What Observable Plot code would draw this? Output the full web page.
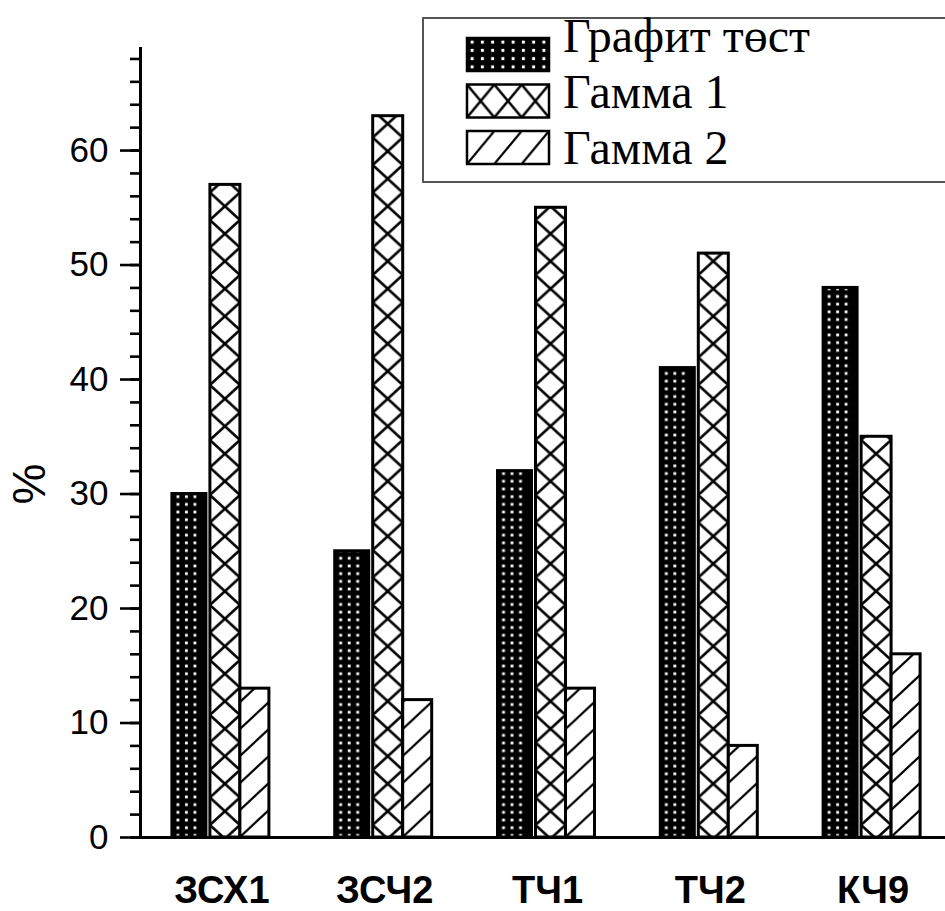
<!DOCTYPE html>
<html>
<head>
<meta charset="utf-8">
<script src="https://cdn.jsdelivr.net/npm/d3@7"></script>
<script src="https://cdn.jsdelivr.net/npm/@observablehq/plot@0.6"></script>
<style>
  html, body { margin: 0; padding: 0; background: white; overflow: hidden; }
  #wrap { position: relative; width: 945px; height: 911px; }
  #legend { position: absolute; left: 422px; top: 0; overflow: visible; }
  #defs { position: absolute; width: 0; height: 0; }
</style>
</head>
<body>
<svg id="defs" width="0" height="0"><defs></defs></svg>
<div id="wrap"></div>
<script>
// Samples and measured shares (%)
const categories = ["ЗСХ1", "ЗСЧ2", "ТЧ1", "ТЧ2", "КЧ9"];
const series = ["Графит төст", "Гамма 1", "Гамма 2"];
const graphite = [30, 25, 32, 41, 48];
const gamma1 = [57, 63, 55, 51, 35];
const gamma2 = [13, 12, 13, 8, 16];
const yTicks = [0, 10, 20, 30, 40, 50, 60];
const yMinorTicks = d3.range(0, 69, 2);

const values = [graphite, gamma1, gamma2];
const data = categories.flatMap((c, i) =>
  series.map((s, j) => ({category: c, index: i, series: s, value: values[j][i]}))
);

// Position of each series inside a category slot (slot = one unit on x)
const sub = d3.scaleBand().domain(series).range([0, 1]).paddingInner(0).paddingOuter(0.967);

// fill pattern per series, and small insets so the bars sit as in a grouped histogram
const patternIds = ["pat-graphite", "pat-gamma1", "pat-gamma2"];
const insets = [
  {insetLeft: 0, insetRight: -1},
  {insetLeft: 5, insetRight: -2},
  {insetLeft: 2, insetRight: 2}
];

const bars = series.map((s, j) =>
  Plot.rectY(data.filter(d => d.series === s), {
    x1: d => d.index + sub(d.series),
    x2: d => d.index + sub(d.series) + sub.bandwidth(),
    y: "value",
    fill: `url(#${patternIds[j]})`,
    stroke: "black",
    strokeWidth: 3,
    ...insets[j]
  })
);

const chart = Plot.plot({
  width: 945,
  height: 911,
  marginLeft: 140,
  marginRight: -9,
  marginTop: 47,
  marginBottom: 74,
  style: {fontFamily: "'Liberation Sans', Arial, sans-serif", background: "white", color: "black"},
  x: {domain: [0, categories.length], label: null},
  y: {domain: [0, 69], label: null},
  marks: [
    ...bars,
    Plot.ruleY([0], {strokeWidth: 3}),
    Plot.ruleX([0], {strokeWidth: 3}),
    // outward ticks on the y axis: short ones every 2 %, long ones every 10 %
    Plot.ruleY(yMinorTicks, {x1: 0, x2: 0, insetLeft: -10, strokeWidth: 2.6}),
    Plot.ruleY(yTicks, {x1: 0, x2: 0, insetLeft: -20, strokeWidth: 2.6}),
    Plot.axisY({ticks: yTicks, tickSize: 0, tickPadding: 32, fontSize: 35, label: null}),
    Plot.axisX({
      ticks: categories.map((c, i) => i + 0.5),
      tickFormat: d => categories[Math.floor(d)],
      tickSize: 0, tickPadding: 39, fontSize: 38, fontWeight: "bold", label: null
    }),
    Plot.text(["%"], {frameAnchor: "left", dx: -110, dy: 62, rotate: -90, fontSize: 46})
  ]
});
document.getElementById("wrap").appendChild(chart);

// Fill patterns: one tile per category slot, so every group lines up the same way
const defs = d3.select("#defs defs");
const xs = chart.scale("x");
const origin = xs.apply(0);
const step = xs.apply(1) - xs.apply(0);

function pattern(id, x, y, w, h) {
  return defs.append("pattern")
    .attr("id", id)
    .attr("patternUnits", "userSpaceOnUse")
    .attr("x", x).attr("y", y)
    .attr("width", w).attr("height", h);
}
function dots(p, w, h, cols, size) {
  p.append("rect").attr("width", w).attr("height", h).attr("fill", "black");
  cols.forEach(cx => p.append("rect")
    .attr("x", cx - size / 2).attr("y", (h - size) / 2)
    .attr("width", size).attr("height", size).attr("fill", "white"));
}
function cross(p, a, b, w, h, sw) {
  p.append("rect").attr("width", w).attr("height", h).attr("fill", "white");
  p.append("path").attr("d", `M${a},0L${b},${h}M${b},0L${a},${h}`)
    .attr("stroke", "black").attr("stroke-width", sw).attr("fill", "none");
}
function hatch(p, a, b, w, h, sw) {
  p.append("rect").attr("width", w).attr("height", h).attr("fill", "white");
  p.append("path").attr("d", `M${a},${h}L${b},0M${a},${2 * h}L${b},${h}M${a},0L${b},${-h}`)
    .attr("stroke", "black").attr("stroke-width", sw).attr("fill", "none");
}

series.forEach((s, j) => {
  const a = sub(s) * step + insets[j].insetLeft;
  const b = (sub(s) + sub.bandwidth()) * step - insets[j].insetRight;
  if (j === 0) {
    const h = 7.7;
    dots(pattern(patternIds[j], origin, 0, step, h), step, h, [a + 6, a + 14.5, a + 23], 2.8);
  } else if (j === 1) {
    cross(pattern(patternIds[j], origin, 0, step, 27.5), a, b, step, 27.5, 2.6);
  } else {
    hatch(pattern(patternIds[j], origin, 0, step, 27), a, b, step, 27, 2.3);
  }
});

// Legend patterns (swatch-local coordinates)
const swW = 82, swH = 33, cell = swW / 3;
dots(pattern("leg-graphite", 0, 0, swW / 8, 8.25), swW / 8, 8.25, [swW / 16], 3);
cross(pattern("leg-gamma1", 0, 0, cell, swH), 0, cell, cell, swH, 2.4);
hatch(pattern("leg-gamma2", 0, 0, cell, swH), 0, cell, cell, swH, 2.2);
const legendIds = ["leg-graphite", "leg-gamma1", "leg-gamma2"];

// Legend box, drawn over the upper right of the plot
const legend = d3.select("#wrap").append("svg")
  .attr("id", "legend")
  .attr("width", 523).attr("height", 190);
const box = legend.append("g").attr("transform", "translate(0,17)");
box.append("rect")
  .attr("x", 1).attr("y", 1).attr("width", 560).attr("height", 164)
  .attr("fill", "white").attr("stroke", "#555").attr("stroke-width", 2);
series.forEach((s, i) => {
  const g = box.append("g").attr("transform", `translate(45,${21 + i * 46.5})`);
  g.append("rect").attr("width", swW).attr("height", swH)
    .attr("fill", `url(#${legendIds[i]})`)
    .attr("stroke", "black").attr("stroke-width", 2.5);
  box.append("text")
    .attr("x", 141).attr("y", 35 + i * 56)
    .attr("font-family", "'Liberation Serif', 'Times New Roman', serif")
    .attr("font-size", 48)
    .attr("fill", "black")
    .text(s);
});
</script>
</body>
</html>
